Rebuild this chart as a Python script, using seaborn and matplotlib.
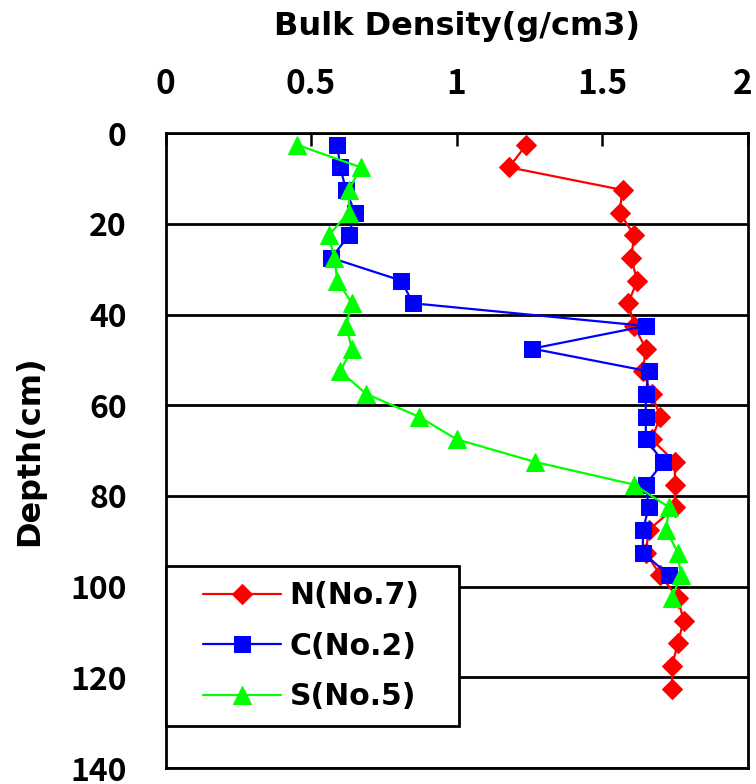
import pandas as pd
import seaborn as sns
import matplotlib.pyplot as plt
from matplotlib.lines import Line2D
from matplotlib.legend_handler import HandlerLine2D
from matplotlib.transforms import ScaledTranslation

# depth (cm) and bulk density (g/cm3)
n_depth = [2.5, 7.5, 12.5, 17.5, 22.5, 27.5, 32.5, 37.5, 42.5, 47.5, 52.5, 57.5, 62.5,
           67.5, 72.5, 77.5, 82.5, 87.5, 92.5, 97.5, 102.5, 107.5, 112.5, 117.5, 122.5]
n_density = [1.24, 1.18, 1.57, 1.56, 1.61, 1.60, 1.62, 1.59, 1.61, 1.65, 1.64, 1.67, 1.70,
             1.67, 1.75, 1.75, 1.75, 1.66, 1.65, 1.70, 1.76, 1.78, 1.76, 1.74, 1.74]

c_depth = [2.5, 7.5, 12.5, 17.5, 22.5, 27.5, 32.5, 37.5, 42.5, 47.5, 52.5, 57.5, 62.5,
           67.5, 72.5, 77.5, 82.5, 87.5, 92.5, 97.5]
c_density = [0.59, 0.60, 0.62, 0.65, 0.63, 0.57, 0.81, 0.85, 1.65, 1.26, 1.66, 1.65, 1.65,
             1.65, 1.71, 1.65, 1.66, 1.64, 1.64, 1.73]

s_depth = [2.5, 7.5, 12.5, 17.5, 22.5, 27.5, 32.5, 37.5, 42.5, 47.5, 52.5, 57.5, 62.5,
           67.5, 72.5, 77.5, 82.5, 87.5, 92.5, 97.5, 102.5]
s_density = [0.45, 0.67, 0.63, 0.63, 0.56, 0.58, 0.59, 0.64, 0.62, 0.64, 0.60, 0.69, 0.87,
             1.00, 1.27, 1.61, 1.73, 1.72, 1.76, 1.77, 1.74]

labels = ['N(No.7)', 'C(No.2)', 'S(No.5)']
x_ticks = [0, 0.5, 1, 1.5, 2]
x_ticklabels = ['0', '0.5', '1', '1.5', '2']
y_ticks = [0, 20, 40, 60, 80, 100, 120, 140]

sns.set_style('white')
plt.rcParams['font.family'] = ['DejaVu Sans', 'Noto Sans CJK JP']
plt.rcParams['text.color'] = 'black'
plt.rcParams['axes.labelcolor'] = 'black'
plt.rcParams['xtick.color'] = 'black'
plt.rcParams['ytick.color'] = 'black'
tick_font = ['Noto Sans CJK JP', 'DejaVu Sans']

fig, ax = plt.subplots(figsize=(7.56, 7.84), dpi=100)
fig.subplots_adjust(left=0.219, right=0.989, top=0.830, bottom=0.0204)

series = [
    (n_depth, n_density, '#ff0000', 'D', 10),
    (c_depth, c_density, '#0000ff', 's', 11.5),
    (s_depth, s_density, '#00ff00', '^', 13),
]
for (dep, den, col, mk, ms), lab in zip(series, labels):
    df = pd.DataFrame({'depth': dep, 'density': den})
    sns.lineplot(data=df, x='density', y='depth', orient='y', sort=False, estimator=None,
                 color=col, marker=mk, markersize=ms, markeredgecolor=col,
                 linewidth=1.6, label=lab, ax=ax, zorder=3)

ax.set_xlim(0, 2)
ax.set_ylim(140, 0)
ax.xaxis.tick_top()
ax.xaxis.set_label_position('top')
ax.set_xticks(x_ticks)
ax.set_xticklabels(x_ticklabels, family=tick_font, fontsize=24, fontweight='bold')
ax.set_yticks(y_ticks)
ax.set_yticklabels([str(t) for t in y_ticks], family=tick_font, fontsize=23,
                   fontweight='bold')

ax.grid(axis='y', color='black', linewidth=2)
ax.set_axisbelow(True)
for sp in ax.spines.values():
    sp.set_color('black')
    sp.set_linewidth(2)

ax.tick_params(axis='x', direction='in', length=9, width=1.8, pad=23,
               top=True, bottom=False)
ax.tick_params(axis='y', length=0, pad=28)

# last x label sits a little inside the right edge, as in the original
last = ax.get_xticklabels()[-1]
last.set_transform(last.get_transform() + ScaledTranslation(-0.05, 0, fig.dpi_scale_trans))

ax.set_xlabel('Bulk Density(g/cm3)', fontsize=23, fontweight='bold', labelpad=24)
ax.set_ylabel('Depth(cm)', fontsize=23, fontweight='bold', labelpad=18)

leg = ax.legend(loc='lower left', bbox_to_anchor=(0, 0.066, 0.504, 0.25), mode='expand',
                borderaxespad=0, fontsize=21.5, frameon=True, fancybox=False,
                framealpha=1, edgecolor='black', handlelength=3.35, handletextpad=0.3,
                borderpad=0.5, labelspacing=0.72,
                handler_map={Line2D: HandlerLine2D(xpad=0.76)})
leg.get_frame().set_linewidth(2)
for t in leg.get_texts():
    t.set_fontweight('bold')
leg.set_zorder(5)

plt.savefig('out.png', dpi=100)
